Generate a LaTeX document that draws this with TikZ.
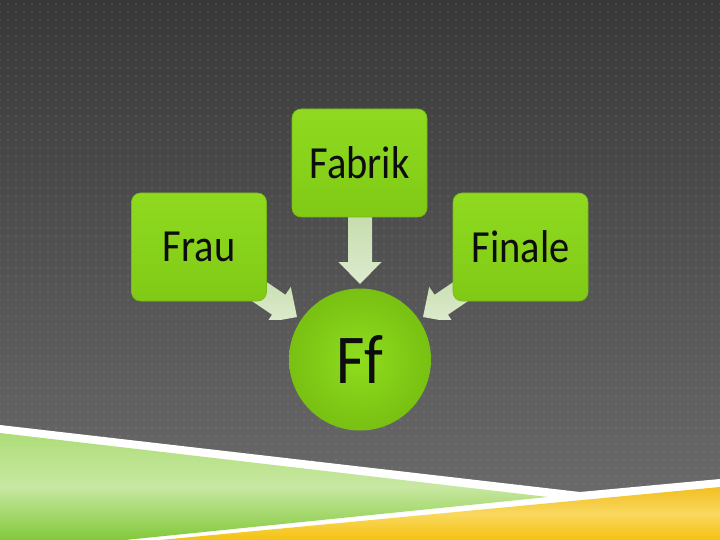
\documentclass[tikz,border=0pt]{standalone}
\usepackage{fontspec}
\newfontfamily\gs[FakeStretch=0.88]{Carlito}
\usetikzlibrary{calc,backgrounds,patterns.meta}
\definecolor{bgtop}{HTML}{383838}
\definecolor{bgbot}{HTML}{6E6E6E}
\definecolor{boxtop}{HTML}{8FDA20}
\definecolor{boxbot}{HTML}{80CA16}
\definecolor{boxedge}{HTML}{76BA14}
\definecolor{circin}{HTML}{8FDD1E}
\definecolor{circout}{HTML}{78C012}
\definecolor{arrtop}{HTML}{BCD69C}
\definecolor{arrbot}{HTML}{DDEBCF}
\definecolor{txt}{HTML}{0D0D0D}
\definecolor{grtop}{HTML}{AEDD78}
\definecolor{grmid}{HTML}{C8E8A2}
\definecolor{grbot}{HTML}{82C93A}
\definecolor{yltop}{HTML}{F1BF22}
\definecolor{ylmid}{HTML}{F9D85E}
\definecolor{ylbot}{HTML}{F4C212}
\tikzdeclarepattern{name=bgdots, type=uncolored,
  bottom left={(-1pt,-1pt)}, top right={(7pt,7pt)}, tile size={(8pt,8pt)},
  code={\fill (0pt,0pt) circle (0.8pt);}}
\tikzset{
  boxnode/.style={rectangle, rounded corners=9pt, minimum width=135pt,
    minimum height=108pt, inner sep=0pt, top color=boxtop, bottom color=boxbot,
    draw=boxedge, line width=0.6pt, text=txt, font=\gs\fontsize{46}{50}\selectfont},
  circnode/.style={circle, minimum size=142pt, inner sep=0pt,
    inner color=circin, outer color=circout, text=txt,
    font=\gs\fontsize{70}{74}\selectfont},
  arrowfill/.style={top color=arrtop, bottom color=arrbot}
}
\newcommand\blockarrow[2]{%
  \coordinate (bah) at ($(#2)!22pt!(#1)$);
  \path[arrowfill]
    ($(#1)!12pt!90:(#2)$) -- ($(bah)!12pt!90:(#2)$) -- ($(bah)!21.5pt!90:(#2)$)
    -- (#2) -- ($(bah)!21.5pt!-90:(#2)$) -- ($(bah)!12pt!-90:(#2)$)
    -- ($(#1)!12pt!-90:(#2)$) -- cycle;}
\begin{document}
\begin{tikzpicture}[x=1pt,y=-1pt]
\useasboundingbox (0,0) rectangle (720,540);
\node[boxnode] (fabrik) at (359.5,163) {Fabrik};
\node[boxnode] (frau) at (199,247) {Frau};
\node[boxnode] (finale) at (520.5,247) {Finale};
\node[circnode] (ff) at (360,359.5) {Ff};
\begin{scope}[on background layer]
  \shade[top color=bgtop, bottom color=bgbot] (0,0) rectangle (720,540);
  \fill[pattern=bgdots, pattern color=white, opacity=0.14] (0,0) rectangle (720,540);
  % bottom decoration
  \fill[white] (0,425) -- (580,492) -- (720,479) -- (720,540) -- (0,540) -- cycle;
  \shade[top color=grtop, bottom color=grbot, middle color=grmid]
    (0,433) -- (548,497) -- (125,540) -- (0,540) -- cycle;
  \shade[top color=yltop, bottom color=ylbot, middle color=ylmid]
    (160,540) -- (720,487) -- (720,540) -- cycle;
  % arrows
  \coordinate (sA) at ($(ff.center)+(90:176pt)$);
  \coordinate (tA) at ($(ff.center)+(90:75.5pt)$);
  \coordinate (sB) at ($(ff.center)+(146:176pt)$);
  \coordinate (tB) at ($(ff.center)+(146:76pt)$);
  \coordinate (sC) at ($(ff.center)+(34:176pt)$);
  \coordinate (tC) at ($(ff.center)+(34:76pt)$);
  \blockarrow{sA}{tA}
  \begin{scope}
    \clip (0,0) rectangle (720,319.5);
    \blockarrow{sB}{tB}
    \blockarrow{sC}{tC}
  \end{scope}
\end{scope}
\end{tikzpicture}
\end{document}
